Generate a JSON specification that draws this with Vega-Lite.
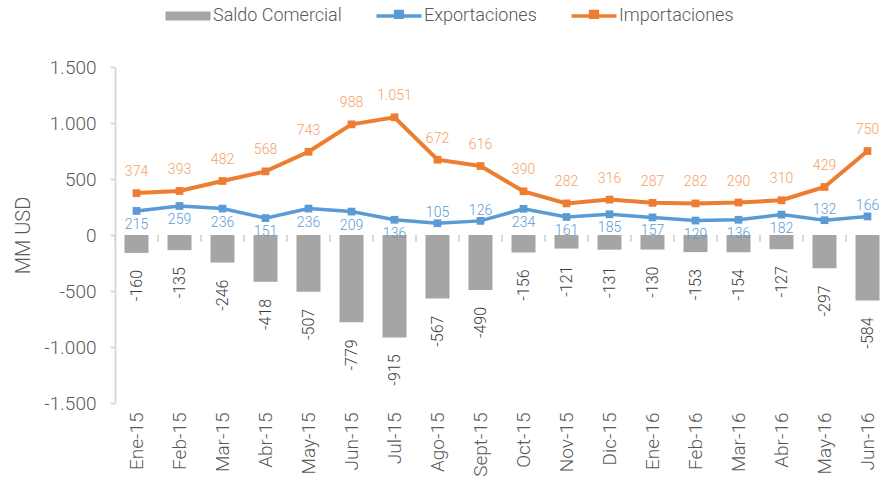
{
  "$schema": "https://vega.github.io/schema/vega-lite/v6.json",
  "width": 766,
  "height": 336,
  "autosize": "none",
  "padding": {"left": 115, "top": 67, "right": 0, "bottom": 85},
  "background": "white",
  "config": {
    "locale": {"number": {"decimal": ",", "thousands": ".", "grouping": [3], "currency": ["", ""], "minus": "-"}},
    "font": "Roboto",
    "view": {"stroke": null},
    "axis": {"labelFont": "Roboto", "titleFont": "Roboto", "labelColor": "#595959", "titleColor": "#595959", "labelFontWeight": 300, "titleFontWeight": 300},
    "legend": {"labelFont": "Roboto", "labelFontWeight": 300},
    "text": {"fontWeight": 300}
  },
  "data": {
    "values": [
      {"m": "Ene-15", "saldo": -160, "exp": 215, "imp": 374},
      {"m": "Feb-15", "saldo": -135, "exp": 259, "imp": 393},
      {"m": "Mar-15", "saldo": -246, "exp": 236, "imp": 482},
      {"m": "Abr-15", "saldo": -418, "exp": 151, "imp": 568},
      {"m": "May-15", "saldo": -507, "exp": 236, "imp": 743},
      {"m": "Jun-15", "saldo": -779, "exp": 209, "imp": 988},
      {"m": "Jul-15", "saldo": -915, "exp": 136, "imp": 1051},
      {"m": "Ago-15", "saldo": -567, "exp": 105, "imp": 672},
      {"m": "Sept-15", "saldo": -490, "exp": 126, "imp": 616},
      {"m": "Oct-15", "saldo": -156, "exp": 234, "imp": 390},
      {"m": "Nov-15", "saldo": -121, "exp": 161, "imp": 282},
      {"m": "Dic-15", "saldo": -131, "exp": 185, "imp": 316},
      {"m": "Ene-16", "saldo": -130, "exp": 157, "imp": 287},
      {"m": "Feb-16", "saldo": -153, "exp": 129, "imp": 282},
      {"m": "Mar-16", "saldo": -154, "exp": 136, "imp": 290},
      {"m": "Abr-16", "saldo": -127, "exp": 182, "imp": 310},
      {"m": "May-16", "saldo": -297, "exp": 132, "imp": 429},
      {"m": "Jun-16", "saldo": -584, "exp": 166, "imp": 750}
    ]
  },
  "encoding": {
    "x": {
      "field": "m", "type": "nominal", "sort": null,
      "scale": {"range": [0, 774], "paddingInner": 0, "paddingOuter": 0},
      "axis": {"title": null, "labelAngle": -90, "labelFontSize": 19, "labelPadding": 9, "domain": false, "ticks": false}
    }
  },
  "layer": [
    {
      "mark": {"type": "bar", "size": 24, "color": "#A5A5A5"},
      "encoding": {
        "y": {
          "field": "saldo", "type": "quantitative",
          "scale": {"domain": [-1500, 1500], "nice": false},
          "axis": {
            "title": "MM USD", "titleFontSize": 20, "titlePadding": 10,
            "values": [-1500, -1000, -500, 0, 500, 1000, 1500], "format": ",d",
            "labelFontSize": 19, "labelPadding": 14, "grid": false,
            "domainColor": "#D9D9D9", "domainWidth": 2, "tickColor": "#D9D9D9", "tickWidth": 2, "tickSize": 5
          }
        },
        "color": {
          "datum": "Saldo Comercial", "type": "nominal",
          "scale": {"domain": ["Saldo Comercial", "Exportaciones", "Importaciones"], "range": ["#A5A5A5", "#5B9BD5", "#ED7D31"]},
          "legend": {
            "title": null, "orient": "none", "direction": "horizontal", "legendX": 64, "legendY": -60,
            "labelFontSize": 18, "labelColor": "#595959", "symbolSize": 2025, "labelOffset": 16, "columnPadding": 27,
            "encode": {
              "symbols": {
                "update": {
                  "shape": {"signal": "datum.value == 'Saldo Comercial' ? 'M-1,-0.2H1V0.2H-1Z' : 'M-1,0H1M-0.15,-0.2H0.15V0.05H-0.15Z'"},
                  "fill": {"signal": "scale('color', datum.value)"},
                  "stroke": {"signal": "scale('color', datum.value)"},
                  "strokeWidth": {"signal": "datum.value == 'Saldo Comercial' ? 0 : 3.5"},
                  "opacity": {"value": 1}
                }
              }
            }
          }
        }
      }
    },
    {
      "mark": {"type": "rule", "color": "#D9D9D9", "strokeWidth": 2},
      "encoding": {"y": {"datum": 0, "type": "quantitative"}}
    },
    {
      "mark": {"type": "rule", "color": "#D9D9D9", "strokeWidth": 2},
      "encoding": {
        "x": {"field": "m", "type": "nominal", "sort": null, "bandPosition": 0},
        "y": {"datum": 0, "type": "quantitative"},
        "y2": {"datum": -60}
      }
    },
    {
      "mark": {"type": "text", "angle": 270, "align": "right", "baseline": "middle", "dx": -17, "fontSize": 16, "color": "#404040"},
      "encoding": {
        "y": {"field": "saldo", "type": "quantitative"},
        "text": {"field": "saldo", "type": "quantitative", "format": ",d"}
      }
    },
    {
      "mark": {"type": "line", "strokeWidth": 3.5, "color": "#5B9BD5"},
      "encoding": {
        "y": {"field": "exp", "type": "quantitative"},
        "color": {"datum": "Exportaciones", "type": "nominal"}
      }
    },
    {
      "mark": {"type": "point", "shape": "square", "filled": true, "size": 60, "opacity": 1, "color": "#5B9BD5"},
      "encoding": {
        "y": {"field": "exp", "type": "quantitative"},
        "color": {"datum": "Exportaciones", "type": "nominal"}
      }
    },
    {
      "mark": {"type": "line", "strokeWidth": 4, "color": "#ED7D31"},
      "encoding": {
        "y": {"field": "imp", "type": "quantitative"},
        "color": {"datum": "Importaciones", "type": "nominal"}
      }
    },
    {
      "mark": {"type": "point", "shape": "square", "filled": true, "size": 60, "opacity": 1, "color": "#ED7D31"},
      "encoding": {
        "y": {"field": "imp", "type": "quantitative"},
        "color": {"datum": "Importaciones", "type": "nominal"}
      }
    },
    {
      "transform": [{"filter": {"not": {"field": "m", "oneOf": ["Ago-15", "Sept-15", "May-16", "Jun-16"]}}}],
      "mark": {"type": "text", "baseline": "middle", "dy": 14, "fontSize": 14, "color": "#5B9BD5"},
      "encoding": {
        "y": {"field": "exp", "type": "quantitative"},
        "text": {"field": "exp", "type": "quantitative", "format": ",d"}
      }
    },
    {
      "transform": [{"filter": {"field": "m", "oneOf": ["Ago-15", "Sept-15", "May-16", "Jun-16"]}}],
      "mark": {"type": "text", "baseline": "middle", "dy": -10, "fontSize": 14, "color": "#5B9BD5"},
      "encoding": {
        "y": {"field": "exp", "type": "quantitative"},
        "text": {"field": "exp", "type": "quantitative", "format": ",d"}
      }
    },
    {
      "mark": {"type": "text", "baseline": "middle", "dy": -21, "fontSize": 14, "color": "#F4A067"},
      "encoding": {
        "y": {"field": "imp", "type": "quantitative"},
        "text": {"field": "imp", "type": "quantitative", "format": ",d"}
      }
    }
  ]
}
